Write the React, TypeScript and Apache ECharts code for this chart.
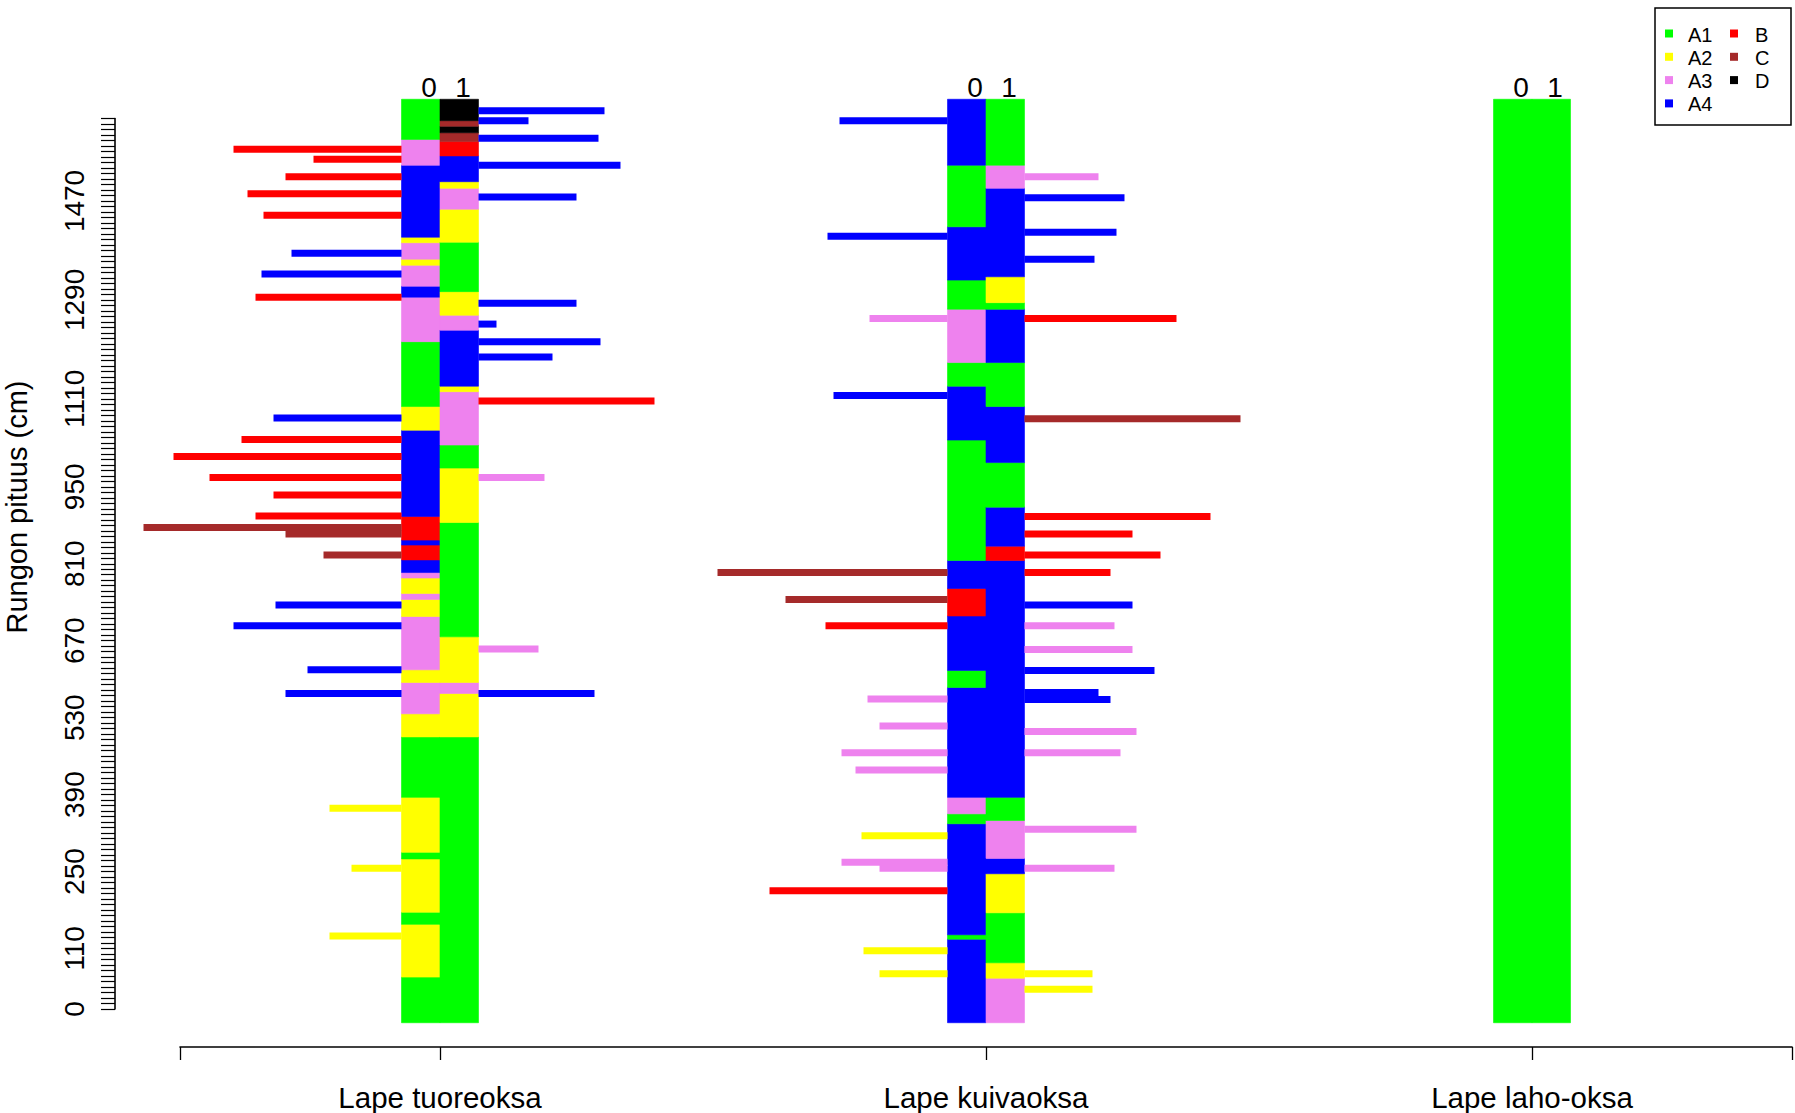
import React, { useEffect, useRef } from "react";
import * as echarts from "echarts";

// ---------- data ----------
const classes = ["A1", "A2", "A3", "A4", "B", "C", "D"];
const classColors = ["#00FF00", "#FFFF00", "#EE82EE", "#0000FF", "#FF0000", "#A52A2A", "#000000"];
const categories = ["Lape tuoreoksa", "Lape kuivaoksa", "Lape laho-oksa"];
const sideLabels = ["0", "1"];
const yTickLabels = [0, 110, 250, 390, 530, 670, 810, 950, 1110, 1290, 1470];
const yTickMax = 1620;
const yTickStep = 10;

// strips: class boundaries along the stem (cm) and the class of each piece
const tuore0Breaks = [-25, 58, 154, 176, 273, 285, 385, 495, 537, 594, 617, 714, 745, 756, 784, 794, 817, 844, 853, 896, 1053, 1096, 1214, 1295, 1315, 1353, 1364, 1394, 1404, 1535, 1582, 1655];
const tuore0Classes = ["A1", "A2", "A1", "A2", "A1", "A2", "A1", "A2", "A3", "A2", "A3", "A2", "A3", "A2", "A3", "A4", "B", "A4", "B", "A4", "A2", "A1", "A3", "A4", "A3", "A2", "A3", "A2", "A4", "A3", "A1"];
const tuore1Breaks = [-25, 495, 574, 594, 677, 885, 984, 1026, 1123, 1133, 1235, 1262, 1305, 1395, 1455, 1493, 1505, 1552, 1578, 1594, 1606, 1616, 1655];
const tuore1Classes = ["A1", "A2", "A3", "A2", "A1", "A2", "A1", "A3", "A2", "A4", "A3", "A2", "A1", "A2", "A3", "A2", "A4", "B", "C", "D", "C", "D"];
const kuiva0Breaks = [-25, 127, 135, 337, 355, 385, 585, 616, 715, 765, 816, 1035, 1133, 1176, 1273, 1326, 1423, 1535, 1655];
const kuiva0Classes = ["A4", "A1", "A4", "A1", "A3", "A4", "A1", "A4", "B", "A4", "A1", "A4", "A1", "A3", "A1", "A4", "A1", "A4"];
const kuiva1Breaks = [-25, 56, 84, 175, 246, 274, 343, 385, 816, 842, 913, 994, 1096, 1176, 1273, 1285, 1332, 1493, 1535, 1655];
const kuiva1Classes = ["A3", "A2", "A1", "A2", "A4", "A3", "A1", "A4", "B", "A4", "A1", "A4", "A1", "A4", "A1", "A2", "A4", "A3", "A1"];
const laho0Breaks = [-25, 1655];
const laho0Classes = ["A1"];
const laho1Breaks = [-25, 1655];
const laho1Classes = ["A1"];

// branches: height (cm), relative length, class
const tuore0BranchH = [1564, 1546, 1514, 1483, 1444, 1375, 1337, 1295, 1075, 1036, 1005, 967, 935, 897, 876, 864, 826, 735, 697, 617, 574, 365, 256, 133];
const tuore0BranchLen = [84, 44, 58, 77, 69, 55, 70, 73, 64, 80, 114, 96, 64, 73, 129, 58, 39, 63, 84, 47, 58, 36, 25, 36];
const tuore0BranchCls = ["B", "B", "B", "B", "B", "A4", "A4", "B", "A4", "B", "B", "B", "B", "B", "C", "C", "C", "A4", "A4", "A4", "A4", "A2", "A2", "A2"];
const tuore1BranchH = [1634, 1616, 1584, 1535, 1477, 1284, 1246, 1214, 1186, 1106, 967, 655, 574];
const tuore1BranchLen = [63, 25, 60, 71, 49, 49, 9, 61, 37, 88, 33, 30, 58];
const tuore1BranchCls = ["A4", "A4", "A4", "A4", "A4", "A4", "A4", "A4", "A4", "B", "A3", "A3", "A4"];
const kuiva0BranchH = [1616, 1406, 1256, 1116, 794, 745, 697, 564, 515, 466, 435, 315, 267, 256, 215, 106, 64];
const kuiva0BranchLen = [54, 60, 39, 57, 115, 81, 61, 40, 34, 53, 46, 43, 53, 34, 89, 42, 34];
const kuiva0BranchCls = ["A4", "A4", "A3", "A4", "C", "C", "B", "A3", "A3", "A3", "A3", "A2", "A3", "A3", "B", "A2", "A2"];
const kuiva1BranchH = [1514, 1476, 1413, 1364, 1256, 1074, 896, 864, 826, 794, 735, 697, 654, 616, 576, 563, 505, 466, 327, 256, 64, 36];
const kuiva1BranchLen = [37, 50, 46, 35, 76, 108, 93, 54, 68, 43, 54, 45, 54, 65, 37, 43, 56, 48, 56, 45, 34, 34];
const kuiva1BranchCls = ["A3", "A4", "A4", "A4", "B", "C", "B", "B", "B", "B", "A4", "A3", "A3", "A4", "A4", "A4", "A3", "A3", "A3", "A3", "A2", "A2"];

// ---------- layout constants ----------
const X_MIN = 0.52381;
const X_MAX = 3.47619;
const HALF = 0.0705; // width of one strip in x units
const LEN_UNIT = 2 / 546; // x units per branch-length unit
const FONT = "'Liberation Sans', Arial, Helvetica, sans-serif";

function buildSegments() {
  const strips = [
    [1, 0, tuore0Breaks, tuore0Classes],
    [1, 1, tuore1Breaks, tuore1Classes],
    [2, 0, kuiva0Breaks, kuiva0Classes],
    [2, 1, kuiva1Breaks, kuiva1Classes],
    [3, 0, laho0Breaks, laho0Classes],
    [3, 1, laho1Breaks, laho1Classes],
  ] as any[];
  const out: number[][] = [];
  strips.forEach(([col, side, br, cl]) => {
    for (let i = 0; i < cl.length; i++) {
      out.push([col, br[i], br[i + 1], side, classes.indexOf(cl[i])]);
    }
  });
  return out;
}

function buildBranches() {
  const sets = [
    [1, 0, tuore0BranchH, tuore0BranchLen, tuore0BranchCls],
    [1, 1, tuore1BranchH, tuore1BranchLen, tuore1BranchCls],
    [2, 0, kuiva0BranchH, kuiva0BranchLen, kuiva0BranchCls],
    [2, 1, kuiva1BranchH, kuiva1BranchLen, kuiva1BranchCls],
  ] as any[];
  const out: number[][] = [];
  sets.forEach(([col, side, hs, ls, cs]) => {
    for (let i = 0; i < hs.length; i++) {
      out.push([col, hs[i], side, ls[i], classes.indexOf(cs[i])]);
    }
  });
  return out;
}

export default function App() {
  const ref = useRef<HTMLDivElement>(null);

  useEffect(() => {
    if (!ref.current) return;
    const chart = echarts.init(ref.current, undefined, { renderer: "svg" });

    const yTickValues: number[] = [];
    for (let v = 0; v <= yTickMax; v += yTickStep) yTickValues.push(v);

    const legendGraphics: any[] = [
      {
        type: "rect",
        shape: { x: 1655, y: 8, width: 136, height: 117 },
        style: { fill: "#fff", stroke: "#000", lineWidth: 1.5 },
        z: 100,
      },
    ];
    classes.forEach((c, i) => {
      const colIdx = i < 4 ? 0 : 1;
      const row = i < 4 ? i : i - 4;
      const cy = 33.5 + row * 23.3;
      const sx = colIdx === 0 ? 1665 : 1730;
      const tx = colIdx === 0 ? 1688 : 1755;
      legendGraphics.push({
        type: "rect",
        shape: { x: sx, y: cy - 4, width: 8, height: 8 },
        style: { fill: classColors[i] },
        z: 101,
      });
      legendGraphics.push({
        type: "text",
        x: tx,
        y: cy + 1,
        style: {
          text: c,
          font: `20px ${FONT}`,
          fill: "#000",
          textAlign: "left",
          textVerticalAlign: "middle",
          align: "left",
          verticalAlign: "middle",
        },
        z: 101,
      });
    });

    const option: any = {
      animation: false,
      backgroundColor: "#ffffff",
      grid: { left: 180, right: 3, top: 118.5, bottom: 104, containLabel: false },
      xAxis: {
        type: "value",
        min: X_MIN,
        max: X_MAX,
        offset: 38,
        axisLine: { show: true, onZero: false, lineStyle: { color: "#000", width: 1.6 } },
        axisTick: {
          show: true,
          length: 13,
          customValues: [X_MIN, 1, 2, 3, X_MAX],
          lineStyle: { color: "#000", width: 1.3 },
        },
        axisLabel: {
          customValues: [1, 2, 3],
          formatter: (v: number) => categories[Math.round(v) - 1] || "",
          margin: 35,
          fontSize: 29.5,
          fontFamily: FONT,
          color: "#000",
        },
        splitLine: { show: false },
      },
      yAxis: {
        type: "value",
        min: 0,
        max: yTickMax,
        position: "left",
        offset: 65,
        axisLine: { show: true, onZero: false, lineStyle: { color: "#000", width: 1.6 } },
        axisTick: {
          show: true,
          length: 14,
          customValues: yTickValues,
          lineStyle: { color: "#000", width: 1.2 },
        },
        axisLabel: {
          customValues: yTickLabels,
          formatter: (v: number) => String(Math.round(v)),
          rotate: 90,
          margin: 27,
          fontSize: 28,
          fontFamily: FONT,
          color: "#000",
        },
        splitLine: { show: false },
      },
      series: [
        {
          type: "custom",
          name: "strips",
          clip: false,
          encode: { x: 0, y: 1 },
          data: buildSegments(),
          renderItem: (params: any, api: any) => {
            const col = api.value(0);
            const lo = api.value(1);
            const hi = api.value(2);
            const side = api.value(3);
            const c = api.value(4);
            const xa = side === 0 ? col - HALF : col;
            const xb = side === 0 ? col : col + HALF;
            const pTL = api.coord([xa, hi]);
            const pBR = api.coord([xb, lo]);
            return {
              type: "rect",
              shape: { x: pTL[0], y: pTL[1], width: pBR[0] - pTL[0], height: pBR[1] - pTL[1] },
              style: { fill: classColors[c], stroke: classColors[c], lineWidth: 0.6 },
            };
          },
        },
        {
          type: "custom",
          name: "branches",
          clip: false,
          encode: { x: 0, y: 1 },
          data: buildBranches(),
          renderItem: (params: any, api: any) => {
            const col = api.value(0);
            const h = api.value(1);
            const side = api.value(2);
            const len = api.value(3);
            const c = api.value(4);
            const sign = side === 0 ? -1 : 1;
            const x0 = col + sign * HALF;
            const x1 = x0 + sign * len * LEN_UNIT;
            const p0 = api.coord([x0, h]);
            const p1 = api.coord([x1, h]);
            return {
              type: "rect",
              shape: {
                x: Math.min(p0[0], p1[0]),
                y: p0[1] - 3.5,
                width: Math.abs(p1[0] - p0[0]),
                height: 7,
              },
              style: { fill: classColors[c] },
            };
          },
        },
        {
          type: "custom",
          name: "sides",
          clip: false,
          encode: { x: 0, y: 1 },
          data: [1, 2, 3].flatMap((col) => [0, 1].map((s) => [col, 1655, s])),
          renderItem: (params: any, api: any) => {
            const col = api.value(0);
            const top = api.value(1);
            const side = api.value(2);
            const p = api.coord([col + (side === 0 ? -0.0201 : 0.0421), top]);
            return {
              type: "text",
              x: p[0],
              y: p[1] - 12,
              style: {
                text: sideLabels[side],
                font: `28px ${FONT}`,
                fill: "#000",
                textAlign: "center",
                textVerticalAlign: "middle",
                align: "center",
                verticalAlign: "middle",
              },
            };
          },
        },
      ],
      graphic: [
        {
          type: "text",
          x: 17,
          y: 507,
          rotation: Math.PI / 2,
          style: {
            text: "Rungon pituus (cm)",
            font: `29px ${FONT}`,
            fill: "#000",
            textAlign: "center",
            textVerticalAlign: "middle",
            align: "center",
            verticalAlign: "middle",
          },
        },
        ...legendGraphics,
      ],
    };

    chart.setOption(option);
    return () => chart.dispose();
  }, []);

  return (
    <div
      ref={ref}
      style={{ position: "absolute", left: 0, top: 0, width: 1795, height: 1113, background: "#fff" }}
    />
  );
}
